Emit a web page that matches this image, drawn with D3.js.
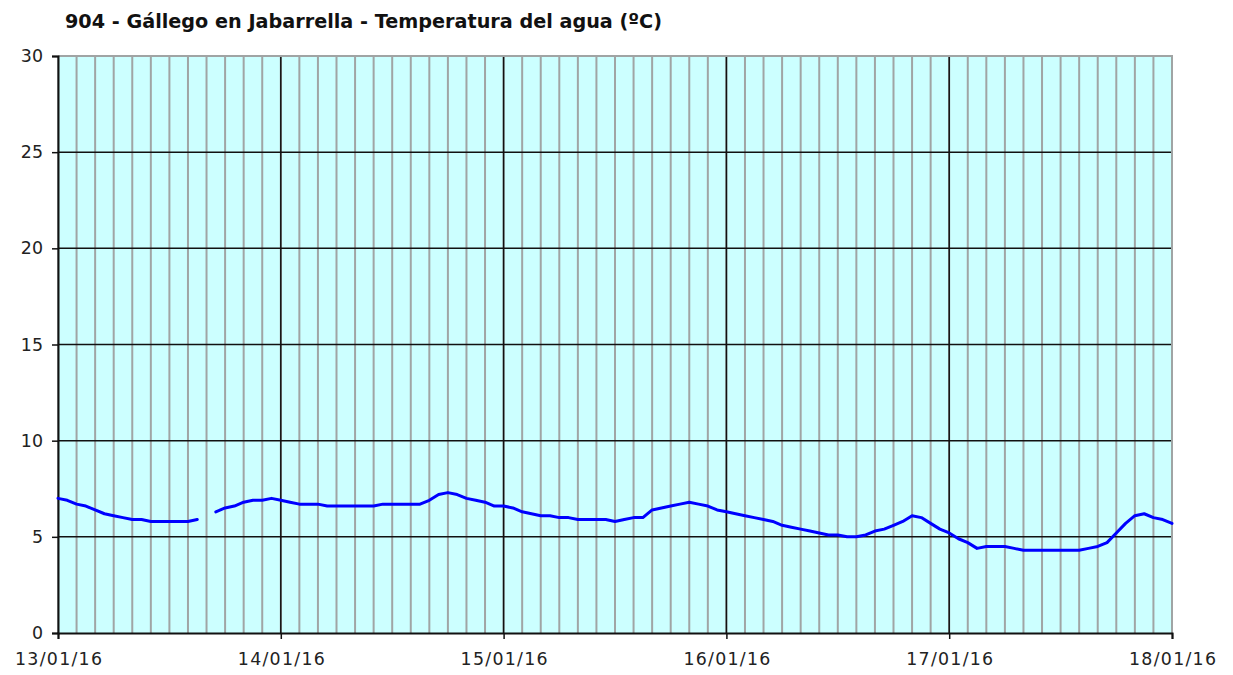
<!DOCTYPE html>
<html>
<head>
<meta charset="utf-8">
<script src="https://cdn.jsdelivr.net/npm/d3@7"></script>
<style>
  body { margin: 0; background: #fff; }
  svg text { font-family: "DejaVu Sans", Verdana, sans-serif; fill: #222; }
</style>
</head>
<body>
<div id="vis"></div>
<script>
const title = '904 - Gállego en Jabarrella - Temperatura del agua (ºC)'
const startDate = new Date(2016, 0, 13, 0, 0)
const dayTicks = ['13/01/16', '14/01/16', '15/01/16', '16/01/16', '17/01/16', '18/01/16']
const yTicks = [0, 5, 10, 15, 20, 25, 30]

// hourly water temperature, 13/01 00:00 -> 18/01 00:00 (null = missing)
const temps = [
  7.0, 6.9, 6.7, 6.6, 6.4, 6.2, 6.1, 6.0, 5.9, 5.9, 5.8, 5.8, 5.8, 5.8, 5.8, 5.9,
  null, 6.3, 6.5, 6.6, 6.8, 6.9, 6.9, 7.0,
  6.9, 6.8, 6.7, 6.7, 6.7, 6.6, 6.6, 6.6, 6.6, 6.6, 6.6, 6.7, 6.7, 6.7, 6.7, 6.7,
  6.9, 7.2, 7.3, 7.2, 7.0, 6.9, 6.8, 6.6,
  6.6, 6.5, 6.3, 6.2, 6.1, 6.1, 6.0, 6.0, 5.9, 5.9, 5.9, 5.9, 5.8, 5.9, 6.0, 6.0,
  6.4, 6.5, 6.6, 6.7, 6.8, 6.7, 6.6, 6.4,
  6.3, 6.2, 6.1, 6.0, 5.9, 5.8, 5.6, 5.5, 5.4, 5.3, 5.2, 5.1, 5.1, 5.0, 5.0, 5.1,
  5.3, 5.4, 5.6, 5.8, 6.1, 6.0, 5.7, 5.4,
  5.2, 4.9, 4.7, 4.4, 4.5, 4.5, 4.5, 4.4, 4.3, 4.3, 4.3, 4.3, 4.3, 4.3, 4.3, 4.4,
  4.5, 4.7, 5.2, 5.7, 6.1, 6.2, 6.0, 5.9,
  5.7
]

const margin = { left: 58, top: 56, right: 61, bottom: 42 }
const W = 1233, H = 675
const width = W - margin.left - margin.right
const height = H - margin.top - margin.bottom

const data = temps.map((v, i) => ({ date: d3.timeHour.offset(startDate, i), v }))
const endDate = d3.timeDay.offset(startDate, 5)

const x = d3.scaleTime().domain([startDate, endDate]).range([0, width])
const y = d3.scaleLinear().domain([0, 30]).range([height, 0])

const svg = d3.select('#vis').append('svg')
  .attr('width', W).attr('height', H)

svg.append('text')
  .attr('x', 65).attr('y', 28)
  .attr('font-size', 20).attr('font-weight', 'bold')
  .attr('textLength', 597).attr('lengthAdjust', 'spacingAndGlyphs')
  .style('fill', '#111')
  .text(title)

const g = svg.append('g').attr('transform', `translate(${margin.left},${margin.top})`)

g.append('rect')
  .attr('width', width).attr('height', height)
  .attr('fill', '#ccffff')

// minor vertical grid, every 2 hours
g.selectAll('.minor').data(d3.timeHour.every(2).range(startDate, endDate))
  .join('line').attr('class', 'minor')
  .attr('x1', d => x(d)).attr('x2', d => x(d))
  .attr('y1', 0).attr('y2', height)
  .attr('stroke', '#a0a4a4').attr('stroke-width', 2)

// major vertical grid, days
const days = d3.timeDay.range(startDate, d3.timeDay.offset(endDate, 1))
g.selectAll('.major').data(days.slice(1, -1))
  .join('line').attr('class', 'major')
  .attr('x1', d => x(d)).attr('x2', d => x(d))
  .attr('y1', 0).attr('y2', height)
  .attr('stroke', '#111').attr('stroke-width', 1.5)

// horizontal grid
g.selectAll('.hgrid').data(yTicks.slice(1, -1))
  .join('line').attr('class', 'hgrid')
  .attr('x1', 0).attr('x2', width)
  .attr('y1', d => y(d)).attr('y2', d => y(d))
  .attr('stroke', '#111').attr('stroke-width', 1.5)

// top and right border
g.append('path')
  .attr('d', `M0,${y(30)}H${width}V${height}`)
  .attr('fill', 'none').attr('stroke', '#a0a4a4').attr('stroke-width', 2)

// axes
const yAxis = g.append('g')
  .call(d3.axisLeft(y).tickValues(yTicks).tickSize(6).tickPadding(9))
const xAxis = g.append('g').attr('transform', `translate(0,${height})`)
  .call(d3.axisBottom(x).tickValues(days).tickSize(6).tickPadding(14)
    .tickFormat((d, i) => dayTicks[i]))

;[yAxis, xAxis].forEach(a => {
  a.select('.domain').attr('stroke', '#111').attr('stroke-width', 2)
  a.selectAll('.tick line').attr('stroke', '#111').attr('stroke-width', 1.5)
  a.selectAll('.tick text')
    .attr('font-family', '"DejaVu Sans", Verdana, sans-serif')
    .attr('font-size', 17.4).style('fill', '#222')
})
xAxis.selectAll('.tick text')
  .attr('textLength', 87).attr('lengthAdjust', 'spacing')

const line = d3.line()
  .defined(d => d.v !== null)
  .x(d => x(d.date))
  .y(d => y(d.v))

g.append('path').datum(data)
  .attr('d', line)
  .attr('fill', 'none')
  .attr('stroke', '#0000ff')
  .attr('stroke-width', 3)
  .attr('stroke-linejoin', 'round')
  .attr('stroke-linecap', 'round')
</script>
</body>
</html>
